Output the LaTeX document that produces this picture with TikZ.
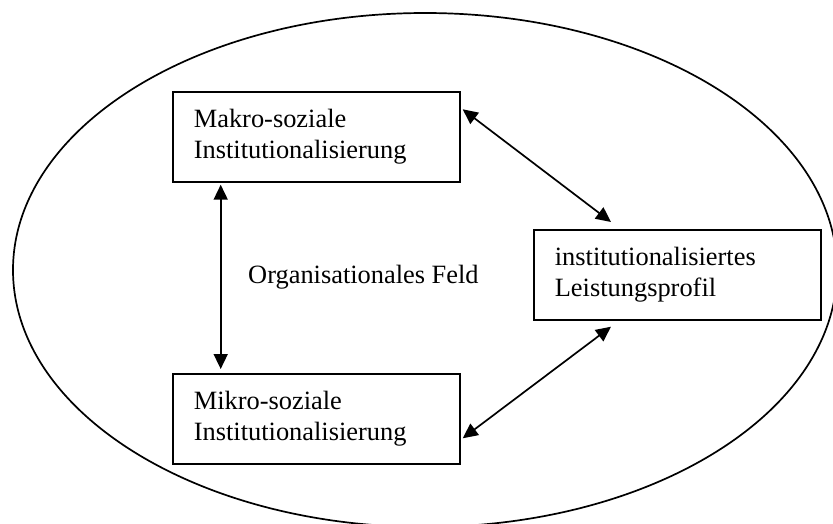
\documentclass[tikz,border=0pt]{standalone}
\usepackage{fontspec}
\setmainfont{Liberation Serif}
\usetikzlibrary{arrows.meta,calc,shapes.geometric}
\tikzset{
  box/.style={draw, line width=1.7pt, rectangle, anchor=north west, align=left,
    text width=245pt, inner xsep=21pt, inner ysep=0pt, minimum width=287pt, minimum height=90pt,
    font=\fontsize{26.4pt}{31pt}\selectfont},
  dblarrow/.style={line width=1.7pt, {Triangle[length=15pt,width=14pt]}-{Triangle[length=15pt,width=14pt]}},
  lbl/.style={font=\fontsize{26.4pt}{31pt}\selectfont, inner sep=0pt, anchor=base west}
}
\begin{document}
\begin{tikzpicture}[x=1pt,y=-1pt]
\useasboundingbox (0,0) rectangle (833,523);
\node[draw, ellipse, line width=1.7pt, minimum width=824pt, minimum height=514pt, inner sep=0pt] (feld) at (425,270) {};
\node[box] (makro) at (172,91) {Makro-soziale\\Institutionalisierung};
\node[box] (mikro) at (172,373) {Mikro-soziale\\Institutionalisierung};
\node[box, minimum width=286pt] (profil) at (533,229) {institutionalisiertes\\Leistungsprofil};
\node[lbl] (orgfeld) at (248,283) {Organisationales Feld};
\coordinate (a1) at ($(makro.south west)+(48.7,2)$);
\coordinate (a2) at ($(mikro.north west)+(48.7,-4)$);
\draw[dblarrow] (a1) -- (a2);
\coordinate (b1) at ($(makro.north east)+(2,18.3)$);
\coordinate (b2) at ($(profil.north west)+(78,-7)$);
\draw[dblarrow] (b1) -- (b2);
\coordinate (c1) at ($(profil.south west)+(78,6)$);
\coordinate (c2) at ($(mikro.north east)+(2,65.3)$);
\draw[dblarrow] (c1) -- (c2);
\end{tikzpicture}
\end{document}
